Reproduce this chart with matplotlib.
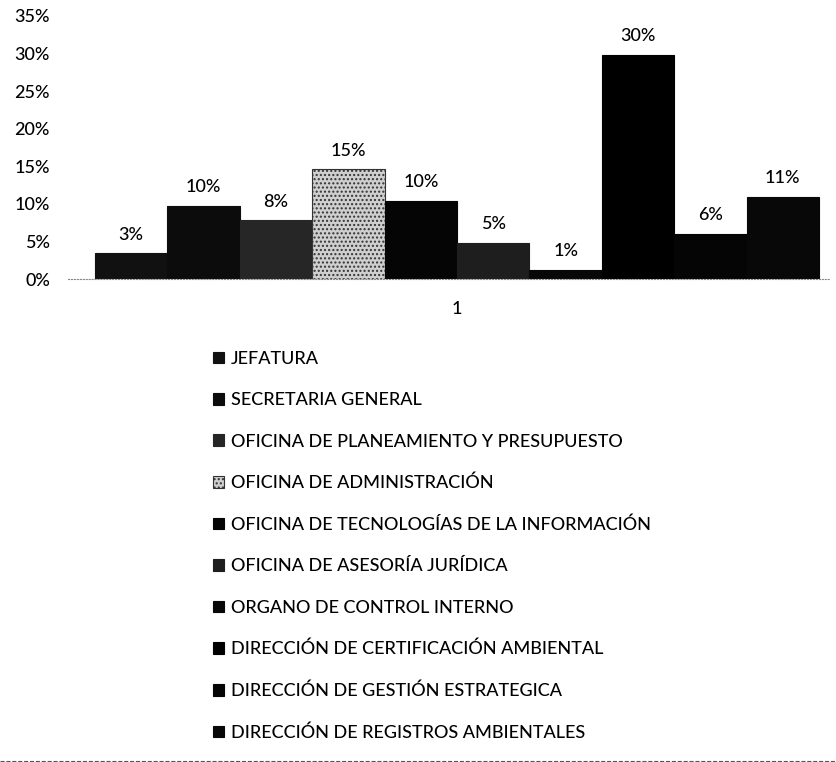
import numpy as np
import matplotlib.pyplot as plt
from matplotlib.ticker import PercentFormatter

plt.rcParams['font.family'] = ['Lato', 'DejaVu Sans']
plt.rcParams['hatch.color'] = '#777777'

# dependencias y su participacion (fraccion)
oficinas = [
    'JEFATURA',
    'SECRETARIA GENERAL',
    'OFICINA DE PLANEAMIENTO Y PRESUPUESTO',
    'OFICINA DE ADMINISTRACIÓN',
    'OFICINA DE TECNOLOGÍAS DE LA INFORMACIÓN',
    'OFICINA DE ASESORÍA JURÍDICA',
    'ORGANO DE CONTROL INTERNO',
    'DIRECCIÓN DE CERTIFICACIÓN AMBIENTAL',
    'DIRECCIÓN DE GESTIÓN ESTRATEGICA',
    'DIRECCIÓN DE REGISTROS AMBIENTALES',
]
valores = [0.034, 0.097, 0.078, 0.146, 0.104, 0.048, 0.012, 0.298, 0.060, 0.109]
categoria = '1'
yticks = [0, 0.05, 0.10, 0.15, 0.20, 0.25, 0.30, 0.35]

colores = ['#111111', '#0c0c0c', '#262626', '#cfcfcf', '#050505',
           '#1e1e1e', '#080808', '#000000', '#050505', '#080808']
tramas = ['..', '.', '....', '....', None, '...', None, None, None, '.']

fig = plt.figure(figsize=(8.37, 7.62), dpi=100)
ax = fig.add_axes([68/837, 1 - 279/762, 762/837, 263/762])

n = len(valores)
pos = np.arange(n) - (n - 1) / 2
for i in range(n):
    ax.bar(pos[i], valores[i], width=1.0, color=colores[i],
           edgecolor='#333333' if i == 3 else colores[i],
           hatch=tramas[i], linewidth=0.8, label=oficinas[i])
    ax.text(pos[i], valores[i] + 0.025, f'{valores[i]:.0%}', ha='center',
            va='center', fontsize=13, fontweight='medium')

ax.set_xlim(-(457 - 68) / 72.4, (830 - 457) / 72.4)
ax.set_ylim(0, 0.35)
ax.set_yticks(yticks)
ax.yaxis.set_major_formatter(PercentFormatter(1.0, decimals=0))
ax.set_xticks([0])
ax.set_xticklabels([categoria])
ax.tick_params(length=0, labelsize=13)
ax.tick_params(axis='x', pad=16)
ax.tick_params(axis='y', pad=13)
for lab in ax.get_xticklabels() + ax.get_yticklabels():
    lab.set_fontweight('medium')
for s in ['top', 'right', 'left']:
    ax.spines[s].set_visible(False)
ax.spines['bottom'].set_color('#888888')
ax.spines['bottom'].set_linestyle(':')

leg = ax.legend(loc='upper left', bbox_to_anchor=(213/837, 1 - 351/762),
                bbox_transform=fig.transFigure, frameon=False,
                prop={'size': 13, 'weight': 'medium'},
                handlelength=0.6, handleheight=0.6, handletextpad=0.4,
                labelspacing=1.40, borderaxespad=0, borderpad=0)

fig.add_artist(plt.Line2D([0, 1], [1 - 760.5/762] * 2, color='#555555',
                          linestyle='--', linewidth=0.8))

fig.savefig('out.png', dpi=100)
